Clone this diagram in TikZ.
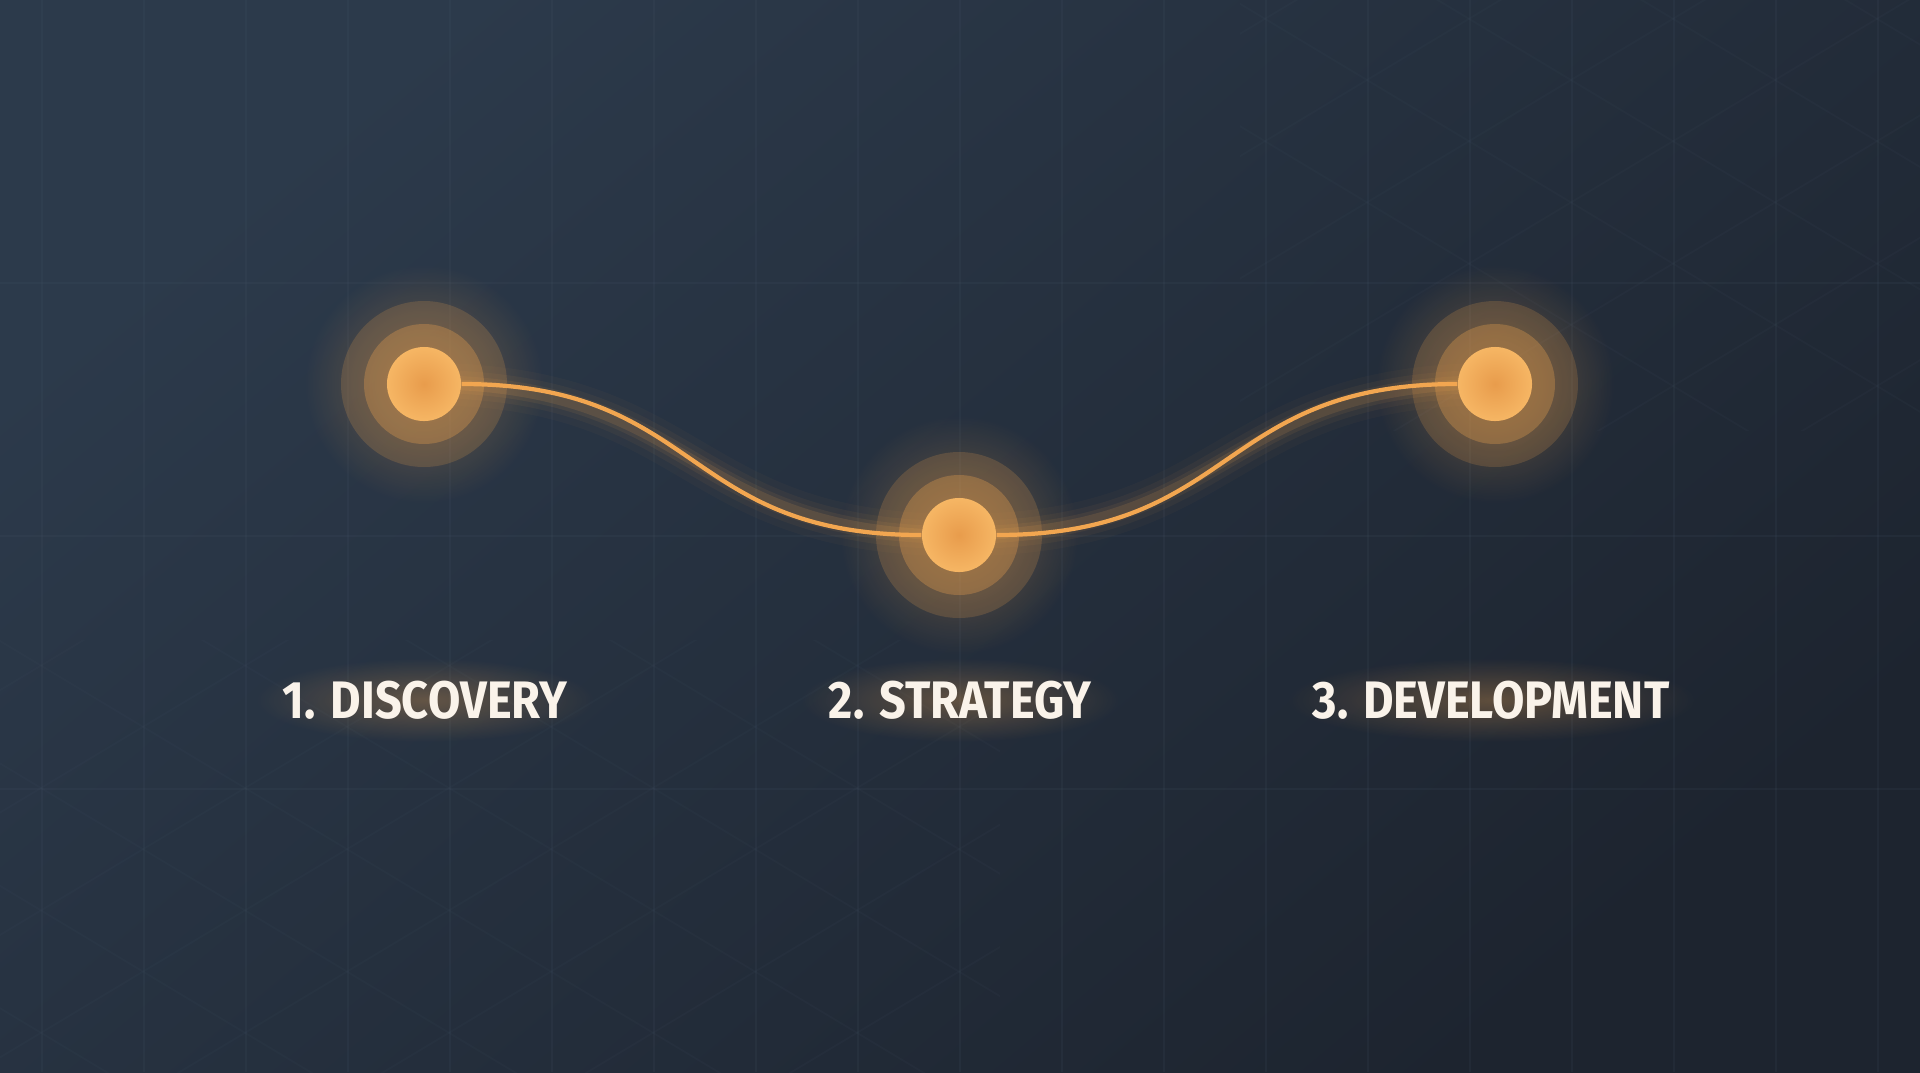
\documentclass[tikz,border=0pt]{standalone}
\usepackage{fontspec}
\newfontfamily\stagefont{Fira Sans}
\usetikzlibrary{fadings}
\definecolor{bgtop}{HTML}{2C3A4B}
\definecolor{bgbot}{HTML}{1D242F}
\definecolor{gridc}{HTML}{4A5A6C}
\definecolor{amber}{HTML}{F2A650}
\definecolor{amberdeep}{HTML}{E89C4C}
\definecolor{amberlight}{HTML}{F6B664}
\definecolor{labelc}{HTML}{FAF3EA}
\tikzfading[name=glowfade, inner color=transparent!0, outer color=transparent!100]
\tikzset{
  gridline/.style={gridc, line width=0.5pt, opacity=0.13},
  diagline/.style={gridc, line width=0.5pt, opacity=0.08},
  stagedot/.style={circle, minimum size=0.74cm, inner sep=0pt, inner color=amberdeep, outer color=amberlight},
  stagelabel/.style={text=labelc, inner sep=0pt, font=\stagefont\bfseries\fontsize{15}{18}\selectfont},
  stageline/.style={amber, line width=1.2pt}
}
\begin{document}
\begin{tikzpicture}[x=0.01cm, y=-0.01cm]
    \useasboundingbox (0,0) rectangle (1920,1072);
    \shade[top color=bgtop, bottom color=bgbot, shading angle=40] (0,0) rectangle (1920,1072);
    \foreach \x in {42,144,...,1920} \draw[gridline] (\x,0) -- (\x,1072);
    \foreach \y in {283,536,789} \draw[gridline] (0,\y) -- (1920,\y);
    \begin{scope}
        \clip (0,640) rectangle (1000,1072);
        \foreach \x in {-367,-163,...,1300} {
            \draw[diagline] (\x-600,428) -- (\x+600,1148);
            \draw[diagline] (\x-600,1148) -- (\x+600,428);
        }
    \end{scope}
    \begin{scope}
        \clip (1240,0) rectangle (1920,430);
        \foreach \x in {1163,1367,...,2400} {
            \draw[diagline] (\x-600,-280) -- (\x+600,440);
            \draw[diagline] (\x-600,440) -- (\x+600,-280);
        }
    \end{scope}
    \coordinate (p1) at (424,384);
    \coordinate (p2) at (959,535);
    \coordinate (p3) at (1495,384);
    \foreach \p in {p1,p2,p3} {
        \fill[amber, opacity=0.35, path fading=glowfade] (\p) circle (120);
        \fill[amber, opacity=0.18] (\p) circle (83);
        \fill[amber, opacity=0.3] (\p) circle (60);
    }
    \foreach \w/\o in {12/0.03,8/0.05,5/0.08,3/0.13}
        \draw[amber, line width=\w pt, opacity=\o] (p1) .. controls +(277,0) and +(-277,0) .. (p2)
            .. controls +(277,0) and +(-277,0) .. (p3);
    \node[stagedot] (n1) at (p1) {};
    \node[stagedot] (n2) at (p2) {};
    \node[stagedot] (n3) at (p3) {};
    \draw[stageline] (n1.east) .. controls +(240,0) and +(-240,0) .. (n2.west)
        (n2.east) .. controls +(240,0) and +(-240,0) .. (n3.west);
    \foreach \n/\x/\r/\t in {l1/425/170/{1. DISCOVERY}, l2/960/160/{2. STRATEGY}, l3/1491/205/{3. DEVELOPMENT}} {
        \fill[amber, opacity=0.3, path fading=glowfade] (\x,700) ellipse ({\r} and 42);
        \node[stagelabel] (\n) at (\x,700) {\scalebox{0.89}[1]{\t}};
    }
\end{tikzpicture}
\end{document}
